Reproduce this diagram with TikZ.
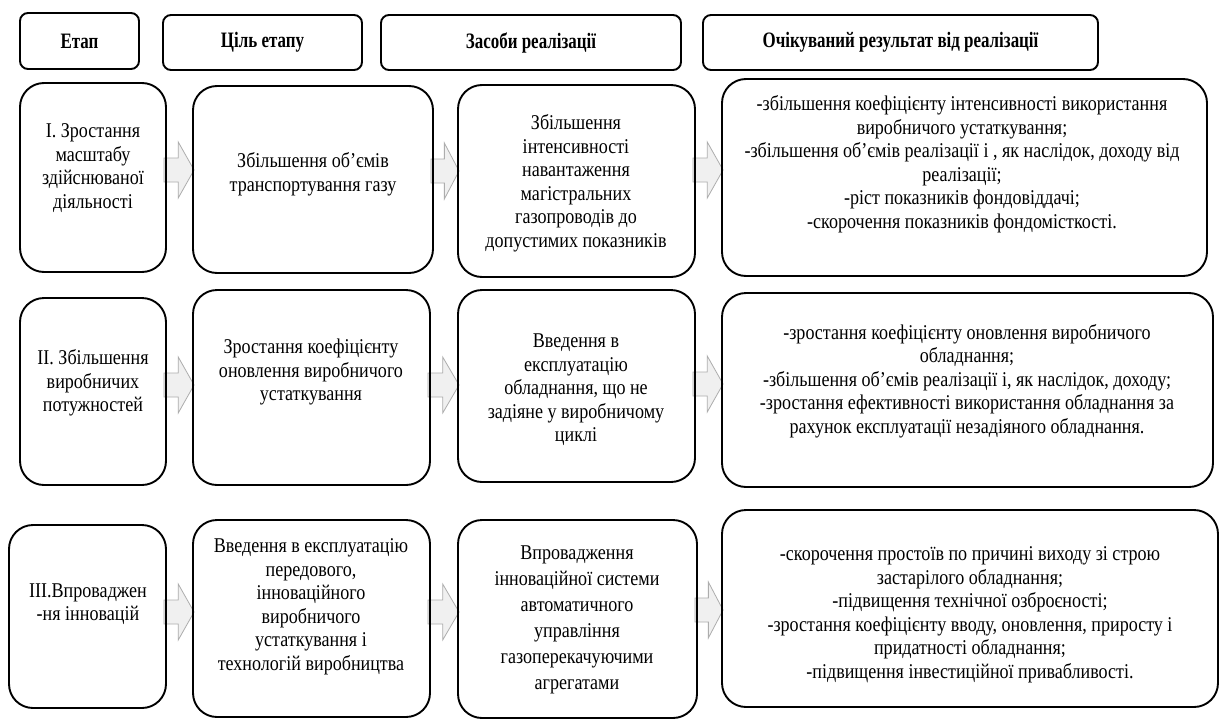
\documentclass[tikz,border=0pt]{standalone}
\usepackage{fontspec}
\setmainfont{Liberation Serif}[FakeStretch=0.86]
\newfontfamily\hdfont{Liberation Serif}[FakeStretch=0.77]
\usetikzlibrary{calc,backgrounds}
\tikzset{
  hbox/.style={draw, line width=1.9pt, rounded corners=8pt},
  rbox/.style={draw, line width=1.9pt, rounded corners=24pt},
  txt/.style={align=center, inner sep=0pt, font=\fontsize{21}{23.5}\selectfont},
  txtw/.style={align=center, inner sep=0pt, font=\fontsize{21}{26}\selectfont},
  htxt/.style={inner sep=0pt, font=\hdfont\bfseries\fontsize{22}{24}\selectfont},
  arr/.style={fill=black!6, draw=black!32, line width=0.8pt},
}
% box: style, name, x1, y1, x2, y2
\newcommand\bx[6]{\node[#1, inner sep=0pt, minimum width={(#5-#3)*1pt}, minimum height={(#6-#4)*1pt}] (#2) at ({(#3+#5)/2},{(#4+#6)/2}) {};}
% block arrow: from, to, y
\newcommand\blockarrow[3]{%
  \path[arr] let \p1=(#1.east), \p2=(#2.west), \p3=(0,#3) in
    (\x1-3pt,\y3+12pt) -- ({0.55*\x1+0.45*\x2},\y3+12pt) -- ({0.55*\x1+0.45*\x2},\y3+28pt)
    -- (\x2+2pt,\y3) -- ({0.55*\x1+0.45*\x2},\y3-28pt) -- ({0.55*\x1+0.45*\x2},\y3-12pt)
    -- (\x1-3pt,\y3-12pt) -- cycle;}
\begin{document}
\begin{tikzpicture}[x=1pt, y=-1pt]
\useasboundingbox (0,0) rectangle (1230,720);
% headers
\bx{hbox}{h1}{20}{13}{139}{69}
\bx{hbox}{h2}{163}{15}{362}{70}
\bx{hbox}{h3}{381}{15}{681}{70}
\bx{hbox}{h4}{703}{15}{1098}{70}
\node[htxt] (h1t) at (h1) {Етап};
\node[htxt] (h2t) at (h2) {Ціль етапу};
\node[htxt] (h3t) at (h3) {Засоби реалізації};
\node[htxt] (h4t) at (h4) {Очікуваний результат від реалізації};
% row 1
\bx{rbox}{a1}{20}{83}{166}{272}
\bx{rbox}{b1}{193}{86}{433}{273}
\bx{rbox}{c1}{458}{85}{695}{277}
\bx{rbox}{d1}{722}{79}{1207}{276}
\node[txt] (a1t) at (93,168) {І. Зростання\\масштабу\\здійснюваної\\діяльності};
\node[txt] (b1t) at (313,174) {Збільшення об’ємів\\транспортування газу};
\node[txt] (c1t) at (576,183) {Збільшення\\інтенсивності\\навантаження\\магістральних\\газопроводів до\\допустимих показників};
\node[txt] (d1t) at (962,164) {-збільшення коефіцієнту інтенсивності використання\\виробничого устаткування;\\-збільшення об’ємів реалізації і , як наслідок, доходу від\\реалізації;\\-ріст показників фондовіддачі;\\-скорочення показників фондомісткості.};
% row 2
\bx{rbox}{a2}{20}{298}{166}{485}
\bx{rbox}{b2}{193}{290}{430}{485}
\bx{rbox}{c2}{458}{290}{695}{482}
\bx{rbox}{d2}{722}{293}{1213}{487}
\node[txt] (a2t) at (93,383) {ІІ. Збільшення\\виробничих\\потужностей};
\node[txt] (b2t) at (311,372) {Зростання коефіцієнту\\оновлення виробничого\\устаткування};
\node[txt] (c2t) at (576,390) {Введення в\\експлуатацію\\обладнання, що не\\задіяне у виробничому\\циклі};
\node[txt] (d2t) at (967,381) {-зростання коефіцієнту оновлення виробничого\\обладнання;\\-збільшення об’ємів реалізації і, як наслідок, доходу;\\-зростання ефективності використання обладнання за\\рахунок експлуатації незадіяного обладнання.};
% row 3
\bx{rbox}{a3}{9}{525}{166}{708}
\bx{rbox}{b3}{193}{520}{430}{717}
\bx{rbox}{c3}{458}{520}{697}{718}
\bx{rbox}{d3}{722}{510}{1218}{707}
\node[txt] (a3t) at (88,604) {ІІІ.Впроваджен\\-ня інновацій};
\node[txt] (b3t) at (311,607) {Введення в експлуатацію\\передового,\\інноваційного\\виробничого\\устаткування і\\технологій виробництва};
\node[txtw] (c3t) at (577,620) {Впровадження\\інноваційної системи\\автоматичного\\управління\\газоперекачуючими\\агрегатами};
\node[txt] (d3t) at (970,615) {-скорочення простоїв по причині виходу зі строю\\застарілого обладнання;\\-підвищення технічної озброєності;\\-зростання коефіцієнту вводу, оновлення, приросту і\\придатності обладнання;\\-підвищення інвестиційної привабливості.};
\begin{pgfonlayer}{background}
\fill[white] (0,0) rectangle (1230,720);
\blockarrow{a1}{b1}{170}
\blockarrow{b1}{c1}{171}
\blockarrow{c1}{d1}{170}
\blockarrow{a2}{b2}{385}
\blockarrow{b2}{c2}{385}
\blockarrow{c2}{d2}{384}
\blockarrow{a3}{b3}{612}
\blockarrow{b3}{c3}{612}
\blockarrow{c3}{d3}{610}
\end{pgfonlayer}
\end{tikzpicture}
\end{document}
